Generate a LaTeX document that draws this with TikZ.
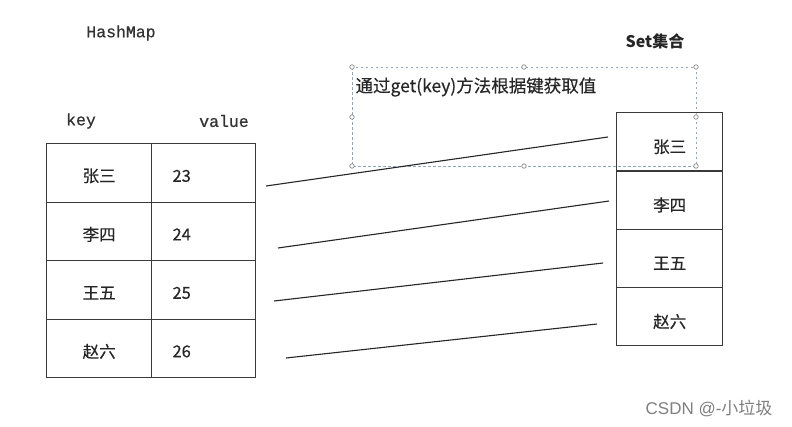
\documentclass[tikz,border=0pt]{standalone}
\usepackage{fontspec}
\newfontfamily\cjk[FakeBold=0.35]{Noto Sans CJK SC}
\newfontfamily\cjkplain{Noto Sans CJK SC}
\newfontfamily\mono[FakeBold=0.6]{Liberation Mono}
\newfontfamily\wm{Liberation Sans}
\definecolor{grid}{HTML}{3A3A3A}
\definecolor{selblue}{HTML}{8FA6BE}
\definecolor{handle}{HTML}{8A8A8A}
\tikzset{
  cell/.style={draw=grid, line width=1.3pt, minimum width=#1, minimum height=58.5pt, inner sep=0pt, anchor=north west},
  cjktext/.style={font=\cjk\fontsize{16.5}{19}\selectfont, text=black!85},
  monotext/.style={font=\mono\fontsize{16.5}{19}\selectfont, text=black!80},
  link/.style={draw=black!85, line width=1.1pt},
  selbox/.style={draw=selblue, line width=1pt, dash pattern=on 2.5pt off 2.5pt},
  hdl/.style={circle, draw=handle, fill=white, line width=0.7pt, minimum size=4.5pt, inner sep=0pt},
}
\begin{document}
\begin{tikzpicture}[x=1pt,y=-1pt]
\useasboundingbox[fill=white] (0,0) rectangle (792,426);

% titles
\node[monotext] (hm) at (121,33) {HashMap};
\node[monotext] (kl) at (81,121) {key};
\node[monotext] (vl) at (224,121) {value};
\node[cjktext, font=\cjkplain\bfseries\fontsize{16}{19}\selectfont] (st) at (655,41) {Set集合};

% selection box
\draw[selbox] (352,67) rectangle (696,166);
\foreach \p/\n in {{(352,67)}/h1,{(524,67)}/h2,{(696,67)}/h3,{(352,117)}/h4,{(696,117)}/h5,{(352,166)}/h6,{(524,166)}/h7,{(696,166)}/h8}
  \node[hdl] (\n) at \p {};
\node[cjktext, font=\cjk\fontsize{17.5}{20}\selectfont, anchor=west] (note) at (352,87) {通过get(key)方法根据键获取值};

% left table
\foreach \i/\k/\v in {0/张三/23,1/李四/24,2/王五/25,3/赵六/26}{
  \node[cell=105pt, minimum height=58.5pt] (k\i) at (46,143+58.5*\i) {};
  \node[cell=104pt, minimum height=58.5pt] (v\i) at (151,143+58.5*\i) {};
  \node[cjktext] (kt\i) at ([yshift=-3pt]k\i.center) {\k};
  \node[cjktext, anchor=west] (vt\i) at ([xshift=18pt,yshift=-3pt]v\i.west) {\v};
}

% right table
\foreach \i/\k in {0/张三,1/李四,2/王五,3/赵六}{
  \node[cell=106pt, minimum height=58.25pt] (s\i) at (616,112+58.25*\i) {};
  \node[cjktext] (st\i) at ([yshift=-5pt]s\i.center) {\k};
}

% connectors
\coordinate (a0) at (266,186); \coordinate (b0) at (608,137);
\coordinate (a1) at (278,248); \coordinate (b1) at (609,201);
\coordinate (a2) at (274,301); \coordinate (b2) at (603,263);
\coordinate (a3) at (286,358); \coordinate (b3) at (597,324);
\foreach \i in {0,...,3} \draw[link] (a\i) -- (b\i);

% watermark
\node[font=\wm\fontsize{17}{20}\selectfont, text=black!50, anchor=east] (wmk) at (776,408) {CSDN @-\cjkplain 小垃圾};
\end{tikzpicture}
\end{document}
